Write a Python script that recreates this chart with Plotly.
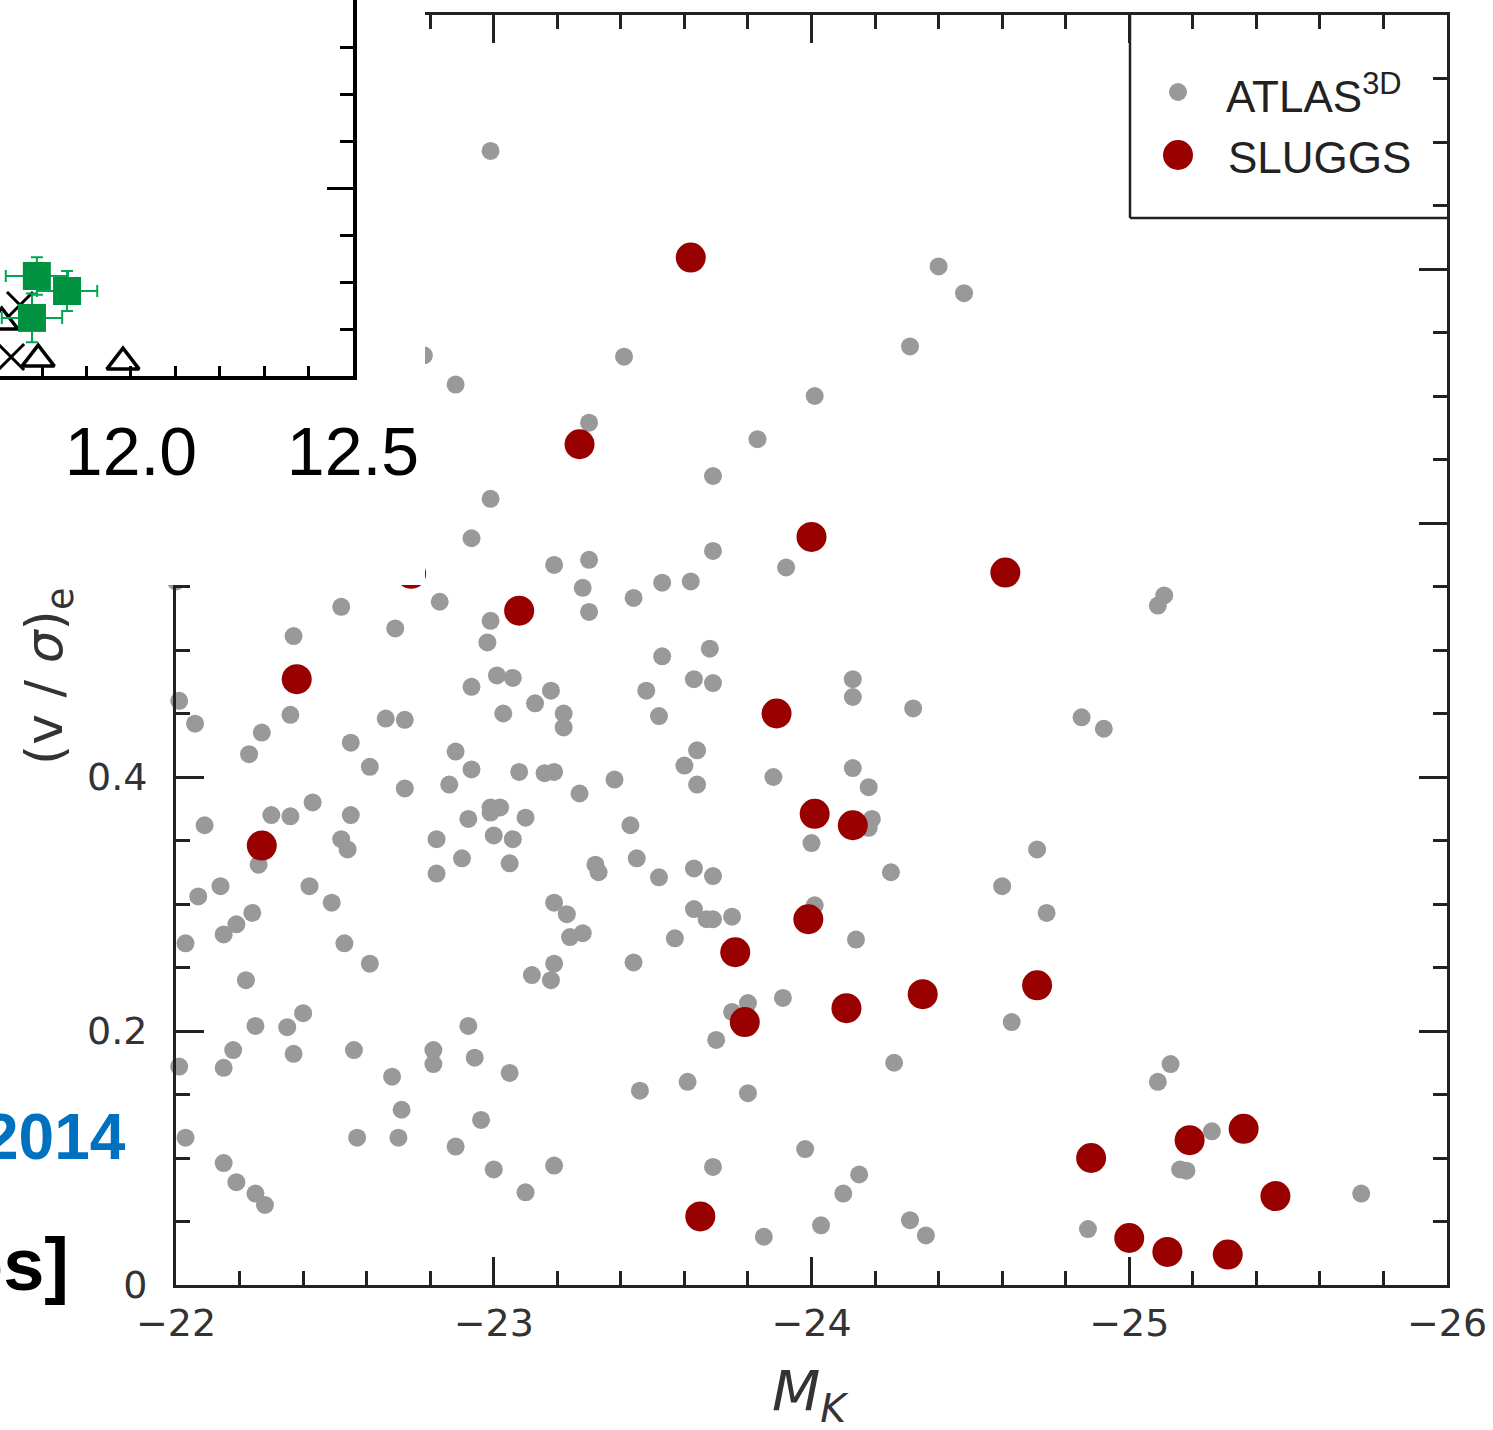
import plotly.graph_objects as go

W, H = 1493, 1430


def px(x):
    return x / W


def py(y):
    return 1 - y / H


# ---------------- main panel data: M_K vs (v/sigma)_e ----------------
atlas_mk = [-22.99, -24.40, -24.48, -24.31, -22.78, -23.41, -22.88, -24.01, -23.30, -23.83,
            -23.69, -22.99, -22.93, -23.69, -23.19, -23.30, -23.92, -23.28, -23.53, -23.62,
            -25.11, -25.09, -22.83, -23.44, -22.00, -22.52, -23.30, -22.37, -22.69, -22.99,
            -22.98, -23.53, -23.68, -22.01, -22.06, -22.36, -22.27, -22.23, -22.66, -22.72,
            -22.93, -23.01, -23.06, -23.18, -23.13, -23.03, -23.22, -23.22, -23.48, -23.63,
            -23.69, -23.52, -22.55, -22.88, -22.61, -22.93, -23.08, -23.16, -23.19, -23.64,
            -23.60, -23.64, -23.88, -22.72, -22.86, -23.38, -23.27, -22.43, -22.30, -22.36,
            -22.55, -22.09, -22.99, -23.02, -22.99, -22.92, -23.10, -23.43, -24.00, -22.26,
            -22.52, -22.54, -22.82, -23.00, -23.06, -22.90, -23.05, -22.82, -23.32, -23.33,
            -23.45, -23.63, -23.69, -23.52, -22.14, -22.07, -22.42, -22.49, -22.24, -22.19,
            -22.15, -22.03, -22.53, -23.19, -23.23, -23.24, -23.28, -23.57, -23.63, -23.67,
            -23.69, -23.75, -24.01, -24.13, -24.13, -24.32, -24.85, -24.92, -24.13, -24.18,
            -24.19, -24.18, -24.25, -24.71, -24.60, -24.74, -24.14, -22.61, -22.22, -23.44,
            -23.19, -23.12, -23.18, -23.91, -23.80, -23.75, -23.70, -22.25, -22.35, -22.40,
            -22.92, -22.18, -22.01, -22.15, -22.37, -22.56, -22.81, -22.81, -22.94, -22.68,
            -23.05, -23.46, -23.61, -23.80, -22.71, -22.96, -22.03, -22.57, -22.70, -22.88,
            -22.15, -23.00, -23.19, -22.19, -22.25, -22.28, -23.10, -23.69, -23.98, -23.85,
            -24.63, -24.26, -25.13, -25.09, -24.15, -24.10, -24.03, -24.31, -24.36, -24.87,
            -25.26, -25.18, -25.73, -25.16]

atlas_vs = [0.893, 0.802, 0.781, 0.739, 0.732, 0.731, 0.709, 0.700, 0.679, 0.666,
            0.637, 0.619, 0.588, 0.578, 0.567, 0.571, 0.565, 0.549, 0.553, 0.554,
            0.543, 0.535, 0.538, 0.541, 0.554, 0.534, 0.530, 0.511, 0.517, 0.523,
            0.506, 0.495, 0.501, 0.460, 0.442, 0.449, 0.435, 0.418, 0.446, 0.445,
            0.471, 0.480, 0.478, 0.468, 0.458, 0.450, 0.450, 0.439, 0.468, 0.477,
            0.474, 0.448, 0.427, 0.420, 0.408, 0.406, 0.404, 0.403, 0.404, 0.421,
            0.409, 0.394, 0.400, 0.391, 0.394, 0.398, 0.387, 0.380, 0.370, 0.369,
            0.370, 0.362, 0.376, 0.376, 0.372, 0.367, 0.368, 0.362, 0.348, 0.331,
            0.351, 0.343, 0.351, 0.354, 0.351, 0.336, 0.332, 0.324, 0.331, 0.325,
            0.336, 0.328, 0.322, 0.321, 0.314, 0.306, 0.314, 0.301, 0.293, 0.284,
            0.276, 0.269, 0.269, 0.301, 0.292, 0.274, 0.277, 0.273, 0.296, 0.288,
            0.288, 0.290, 0.299, 0.477, 0.463, 0.454, 0.447, 0.438, 0.407, 0.392,
            0.367, 0.360, 0.325, 0.343, 0.314, 0.293, 0.272, 0.253, 0.240, 0.254,
            0.253, 0.244, 0.240, 0.226, 0.222, 0.215, 0.193, 0.204, 0.203, 0.214,
            0.204, 0.185, 0.172, 0.171, 0.182, 0.185, 0.185, 0.174, 0.179, 0.164,
            0.167, 0.153, 0.160, 0.151, 0.138, 0.130, 0.116, 0.116, 0.116, 0.109,
            0.096, 0.091, 0.094, 0.081, 0.072, 0.063, 0.073, 0.093, 0.107, 0.038,
            0.207, 0.175, 0.174, 0.160, 0.087, 0.072, 0.047, 0.051, 0.039, 0.044,
            0.121, 0.090, 0.072, 0.091]

sluggs_mk = [-23.62, -23.27, -24.00, -24.61, -22.74, -23.08, -22.38, -23.89, -24.01, -24.13,
             -22.27, -23.76, -23.99, -24.11, -24.35, -24.71, -23.79, -24.88, -25.19, -25.36,
             -25.46, -23.65, -25.00, -25.12, -25.31]
sluggs_vs = [0.809, 0.662, 0.589, 0.561, 0.560, 0.531, 0.477, 0.450, 0.371, 0.362,
             0.346, 0.262, 0.288, 0.218, 0.229, 0.236, 0.207, 0.100, 0.114, 0.123,
             0.070, 0.054, 0.037, 0.026, 0.024]

x_ticks = [-22, -23, -24, -25, -26]
y_ticks = [0, 0.2, 0.4, 0.6, 0.8, 1.0]

# ---------------- inset (partial panel pasted over the top-left) ----------------
inset_sq_x = [11.788, 11.856, 11.777]
inset_sq_y = [0.532, 0.452, 0.309]
inset_sq_ex = [0.070, 0.068, 0.068]
inset_sq_ey = [0.10, 0.106, 0.13]
inset_tri_x = [11.982, 11.791, 11.709]
inset_tri_y = [0.074, 0.090, 0.287]
inset_x_x = [11.730, 11.750]
inset_x_y = [0.101, 0.378]
inset_ticks = [12.0, 12.5]

AX = "#222222"
TXT = "#333333"

fig = go.Figure()

fig.add_trace(go.Scatter(x=atlas_mk, y=atlas_vs, mode="markers", name="ATLAS3D",
                         marker=dict(size=18, color="#999999", line=dict(width=0)),
                         cliponaxis=False, showlegend=False))
fig.add_trace(go.Scatter(x=sluggs_mk, y=sluggs_vs, mode="markers", name="SLUGGS",
                         marker=dict(size=30, color="#990000", line=dict(width=0)),
                         cliponaxis=False, showlegend=False))

# white cover panel (pasted region)
fig.add_trace(go.Scatter(x=[None], y=[None], xaxis="x2", yaxis="y2", mode="markers",
                         showlegend=False, hoverinfo="skip"))

# inset data
fig.add_trace(go.Scatter(x=inset_x_x, y=inset_x_y, xaxis="x3", yaxis="y3", mode="markers",
                         marker=dict(symbol="x-thin", size=26, line=dict(width=3, color="black")),
                         showlegend=False, cliponaxis=False))
fig.add_trace(go.Scatter(x=inset_tri_x, y=inset_tri_y, xaxis="x3", yaxis="y3", mode="markers",
                         marker=dict(symbol="triangle-up-open", size=28, color="black",
                                     line=dict(width=3.5, color="black")),
                         showlegend=False, cliponaxis=False))
fig.add_trace(go.Scatter(x=inset_sq_x, y=inset_sq_y, xaxis="x3", yaxis="y3", mode="markers",
                         marker=dict(symbol="square", size=28, color="#00923f"),
                         error_x=dict(type="data", array=inset_sq_ex, color="#00a651", thickness=2, width=6),
                         error_y=dict(type="data", array=inset_sq_ey, color="#00a651", thickness=2, width=6),
                         showlegend=False, cliponaxis=False))

tickfont = dict(family="DejaVu Sans", size=38, color=TXT)

fig.update_layout(
    template="none",
    width=W, height=H,
    margin=dict(l=0, r=0, t=0, b=0, pad=0, autoexpand=False),
    paper_bgcolor="white", plot_bgcolor="white",
    showlegend=False,
    xaxis=dict(domain=[px(176), px(1447)], range=[-22, -26], anchor="y", automargin=False,
               tickmode="array", tickvals=x_ticks,
               ticks="inside", ticklen=28, tickwidth=3, tickcolor=AX,
               showline=True, linewidth=3, linecolor=AX, mirror="ticks",
               minor=dict(dtick=0.2, tick0=-22, ticks="inside", ticklen=14, tickwidth=3,
                          tickcolor=AX, showgrid=False),
               showgrid=False, zeroline=False, tickfont=tickfont, ticklabelstandoff=2),
    yaxis=dict(domain=[py(1285), py(15)], range=[0, 1.0], anchor="x", automargin=False,
               tickmode="array", tickvals=y_ticks,
               ticks="inside", ticklen=28, tickwidth=3, tickcolor=AX,
               showline=True, linewidth=3, linecolor=AX, mirror="ticks",
               minor=dict(dtick=0.05, tick0=0, ticks="inside", ticklen=14, tickwidth=3,
                          tickcolor=AX, showgrid=False),
               showgrid=False, zeroline=False, tickfont=tickfont, ticklabelstandoff=18),
    xaxis2=dict(domain=[0, px(425)], range=[0, 1], visible=False, anchor="y2", automargin=False),
    yaxis2=dict(domain=[py(585), 1], range=[0, 1], visible=False, anchor="x2", automargin=False),
    xaxis3=dict(domain=[0, px(353)], range=[11.705, 12.5], anchor="y3", automargin=False,
                tickmode="array", tickvals=inset_ticks, ticktext=["12.0", "12.5"],
                ticks="inside", ticklen=10, tickwidth=3, tickcolor="black",
                showline=True, linewidth=3.5, linecolor="black",
                minor=dict(dtick=0.1, tick0=12.0, ticks="inside", ticklen=10, tickwidth=3,
                           tickcolor="black", showgrid=False),
                showgrid=False, zeroline=False,
                tickfont=dict(family="Liberation Sans", size=68, color="black"),
                ticklabelstandoff=14),
    yaxis3=dict(domain=[py(376), 1], range=[0, 2], anchor="x3", side="right", automargin=False,
                dtick=1, tick0=0, ticks="inside", ticklen=26, tickwidth=3, tickcolor="black",
                showline=True, linewidth=3.5, linecolor="black",
                minor=dict(dtick=0.25, tick0=0, ticks="inside", ticklen=13, tickwidth=3,
                           tickcolor="black", showgrid=False),
                showticklabels=False, showgrid=False, zeroline=False),
)

annotations = [
    dict(text="<i>M</i><sub><i>K</i></sub>", x=px(810), y=py(1394), xref="paper", yref="paper",
         xanchor="center", yanchor="middle", showarrow=False,
         font=dict(family="DejaVu Sans", size=56, color=TXT)),
    dict(text="(v / <i>σ</i>)<sub>e</sub>", x=px(48), y=py(676), xref="paper", yref="paper",
         xanchor="center", yanchor="middle", showarrow=False, textangle=-90,
         font=dict(family="DejaVu Sans", size=52, color=TXT)),
    dict(text="ATLAS<sup>3D</sup>", x=px(1224), y=py(93), xref="paper", yref="paper",
         xanchor="left", yanchor="middle", showarrow=False,
         font=dict(family="Liberation Sans", size=44, color=AX)),
    dict(text="SLUGGS", x=px(1226), y=py(157), xref="paper", yref="paper",
         xanchor="left", yanchor="middle", showarrow=False,
         font=dict(family="Liberation Sans", size=44, color=AX)),
    dict(text="<b>2014</b>", x=px(128), y=py(1137), xref="paper", yref="paper",
         xanchor="right", yanchor="middle", showarrow=False,
         font=dict(family="Liberation Sans", size=64, color="#0070C0")),
    dict(text="<b>os]</b>", x=px(71), y=py(1264), xref="paper", yref="paper",
         xanchor="right", yanchor="middle", showarrow=False,
         font=dict(family="Liberation Sans", size=74, color="black")),
]
fig.update_layout(annotations=annotations)

shapes = [
    # legend frame (left and bottom edges; top/right coincide with the axes)
    dict(type="line", xref="paper", yref="paper", x0=px(1130), x1=px(1130), y0=py(15), y1=py(218),
         line=dict(color=AX, width=2.5)),
    dict(type="line", xref="paper", yref="paper", x0=px(1130), x1=px(1447), y0=py(218), y1=py(218),
         line=dict(color=AX, width=2.5)),
    # legend symbols
    dict(type="circle", xref="paper", yref="paper", xsizemode="pixel", ysizemode="pixel",
         xanchor=px(1178), yanchor=py(92), x0=-9, x1=9, y0=-9, y1=9,
         fillcolor="#999999", line=dict(width=0)),
    dict(type="circle", xref="paper", yref="paper", xsizemode="pixel", ysizemode="pixel",
         xanchor=px(1178), yanchor=py(155), x0=-15, x1=15, y0=-15, y1=15,
         fillcolor="#990000", line=dict(width=0)),
]
fig.update_layout(shapes=shapes)

fig.write_html("out.html")
